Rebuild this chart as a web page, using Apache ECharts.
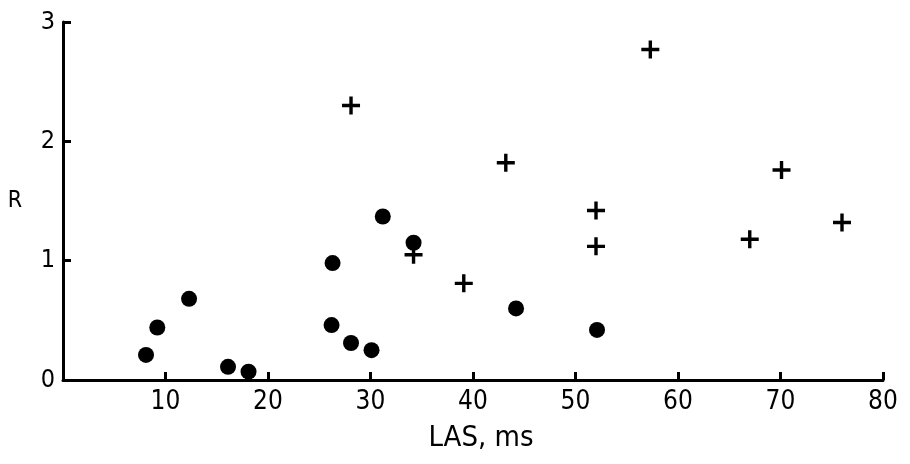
<!DOCTYPE html>
<html>
<head>
<meta charset="utf-8">
<script src="https://cdn.jsdelivr.net/npm/echarts@6/dist/echarts.min.js"></script>
<style>
html,body{margin:0;padding:0;background:#fff;}
#chart{width:910px;height:464px;}
</style>
</head>
<body>
<div id="chart"></div>
<script>
// Filled circles (LAS ms, R)
var circleLAS = [8.1, 9.2, 12.3, 16.1, 18.1, 26.3, 26.2, 28.1, 30.1, 31.2, 34.2, 44.2, 52.1];
var circleR   = [0.21, 0.44, 0.68, 0.11, 0.07, 0.98, 0.46, 0.31, 0.25, 1.37, 1.15, 0.60, 0.42];
// Crosses (LAS ms, R)
var crossLAS = [28.1, 43.2, 57.3, 52.0, 52.0, 34.2, 39.1, 70.1, 67.0, 76.0];
var crossR   = [2.30, 1.82, 2.77, 1.42, 1.12, 1.05, 0.81, 1.76, 1.18, 1.32];
// Axis ticks
var xTicks = [10, 20, 30, 40, 50, 60, 70, 80];
var yTicks = [0, 1, 2, 3];

function pairs(xs, ys) { return xs.map(function (x, i) { return [x, ys[i]]; }); }

var FONT = "'DejaVu Sans Condensed', 'Liberation Sans Narrow', 'DejaVu Sans', sans-serif";
var chart = echarts.init(document.getElementById('chart'), null, {renderer: 'canvas'});
chart.setOption({
  backgroundColor: '#ffffff',
  animation: false,
  grid: {left: 63, right: 27, top: 22, bottom: 84},
  xAxis: {
    type: 'value', min: 0, max: 80, interval: 10,
    name: 'LAS, ms', nameLocation: 'middle', nameGap: 44,
    nameTextStyle: {color: '#000', fontSize: 29, fontFamily: FONT, padding: [0, 0, 0, 16]},
    axisLine: {show: true, lineStyle: {color: '#000', width: 3}},
    axisTick: {show: true, inside: true, length: 8, lineStyle: {color: '#000', width: 3}},
    axisLabel: {
      color: '#000', fontSize: 26, fontFamily: FONT, margin: 9,
      formatter: function (v) { return xTicks.indexOf(v) >= 0 ? String(v) : ''; }
    },
    splitLine: {show: false}
  },
  yAxis: {
    type: 'value', min: 0, max: 3, interval: 1,
    name: 'R', nameLocation: 'middle', nameRotate: 0, nameGap: 41,
    nameTextStyle: {color: '#000', fontSize: 23, fontFamily: FONT, padding: [0, 0, 34, 0]},
    axisLine: {show: true, lineStyle: {color: '#000', width: 3}},
    axisTick: {show: true, inside: true, length: 8, lineStyle: {color: '#000', width: 3}},
    axisLabel: {
      color: '#000', fontSize: 25, fontFamily: FONT, margin: 8,
      formatter: function (v) { return yTicks.indexOf(v) >= 0 ? String(v) : ''; }
    },
    splitLine: {show: false}
  },
  series: [
    {
      type: 'scatter', symbol: 'circle', symbolSize: 16,
      itemStyle: {color: '#000', opacity: 1},
      emphasis: {disabled: true},
      data: pairs(circleLAS, circleR)
    },
    {
      type: 'scatter',
      symbol: 'path://M7.3,0H10.7V7.3H18V10.7H10.7V18H7.3V10.7H0V7.3H7.3Z',
      symbolSize: 18,
      itemStyle: {color: '#000', opacity: 1},
      emphasis: {disabled: true},
      data: pairs(crossLAS, crossR)
    }
  ]
});
</script>
</body>
</html>
